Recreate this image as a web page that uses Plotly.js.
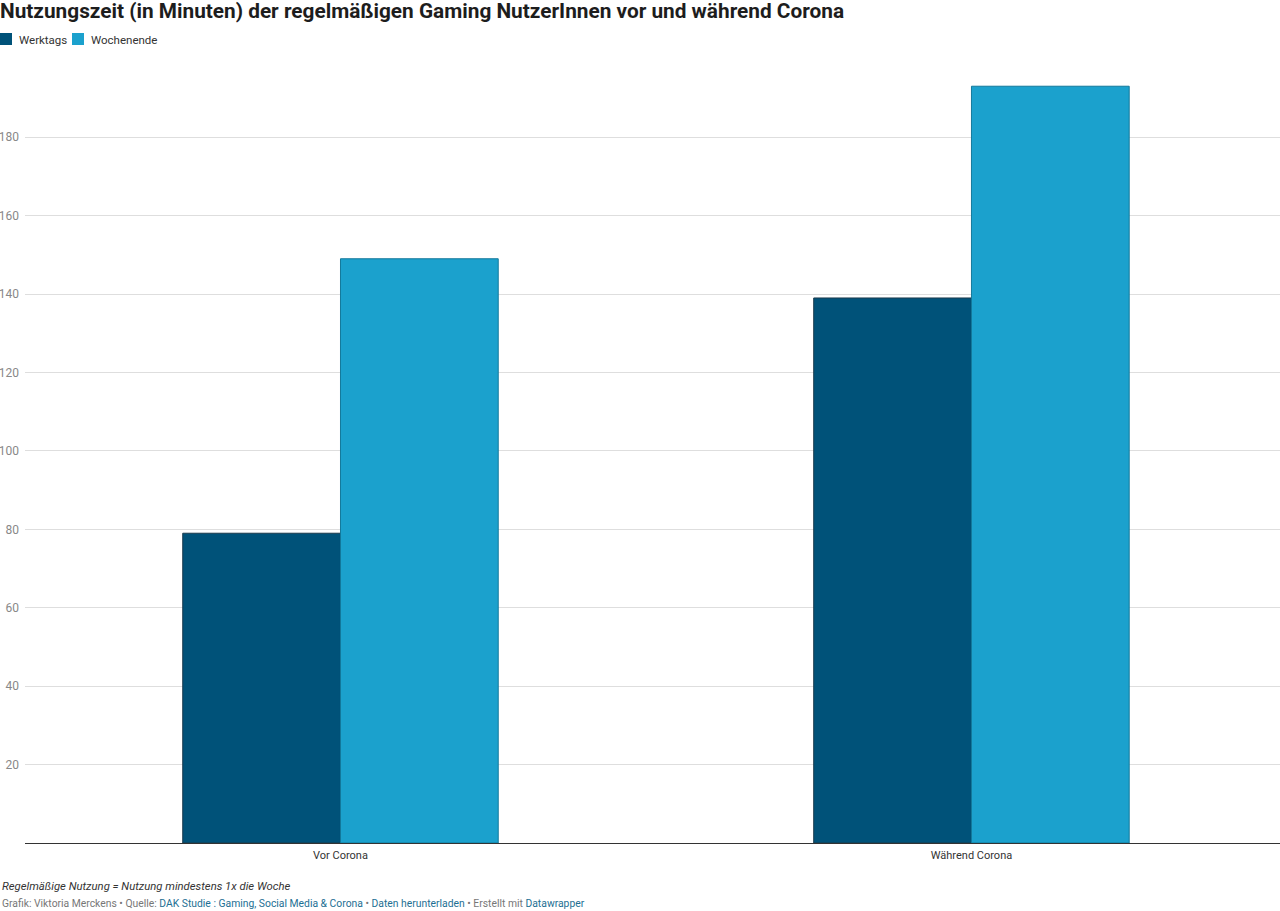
<!DOCTYPE html>
<html>
<head>
<meta charset="utf-8">
<script src="https://cdn.plot.ly/plotly-3.0.1.min.js"></script>
<style>
html,body{margin:0;padding:0;background:#fff;}
#chart{width:1280px;height:911px;}
</style>
</head>
<body>
<div id="chart"></div>
<script>
const categories = ["Vor Corona", "Während Corona"];
const werktags = [79, 139];
const wochenende = [149, 193];
const seriesNames = ["Werktags", "Wochenende"];
const seriesColors = ["#005279", "#1ba1cd"];
const yTicks = [20, 40, 60, 80, 100, 120, 140, 160, 180];

const W = 1280, H = 911;
const mL = 25, mR = 0, mT = 58, mB = 67.5;
const pw = W - mL - mR, ph = H - mT - mB;
const px = v => (v - mL) / pw;          // pixel x -> paper x
const py = v => (H - mB - v) / ph;      // pixel y -> paper y

const traces = [
  {
    type: "bar", name: seriesNames[0], x: categories, y: werktags,
    marker: {color: seriesColors[0], line: {color: "#1a3a4d", width: 1}},
    hoverinfo: "x+y+name"
  },
  {
    type: "bar", name: seriesNames[1], x: categories, y: wochenende,
    marker: {color: seriesColors[1], line: {color: "#13799b", width: 1}},
    hoverinfo: "x+y+name"
  }
];

// legend drawn as shapes + labels to match the compact reference legend
const legendSquares = [[0, 12], [72, 84]];
const legendTextX = [17, 89];
const shapes = legendSquares.map((s, i) => ({
  type: "rect", xref: "paper", yref: "paper",
  x0: px(s[0]), x1: px(s[1]), y0: py(45), y1: py(33),
  fillcolor: seriesColors[i], line: {width: 0}, layer: "above"
}));
const legendLabels = seriesNames.map((n, i) => ({
  xref: "paper", yref: "paper", x: px(legendTextX[i]), xanchor: "left",
  y: py(39.5), yanchor: "middle", showarrow: false, text: n,
  font: {size: 11.5, color: "#333"}
}));

const layout = {
  width: W, height: H,
  paper_bgcolor: "#fff", plot_bgcolor: "#fff",
  font: {family: "Roboto, sans-serif", size: 12, color: "#333"},
  margin: {l: mL, r: mR, t: mT, b: mB, pad: 0},
  barmode: "group", bargap: 0.5, bargroupgap: 0,
  title: {
    text: "<b>Nutzungszeit (in Minuten) der regelmäßigen Gaming NutzerInnen vor und während Corona</b>",
    font: {family: "Roboto, sans-serif", size: 20.8, color: "#1d1d1d"},
    xref: "container", x: 0, xanchor: "left",
    yref: "container", y: 1 - 11/H, yanchor: "middle"
  },
  showlegend: false,
  xaxis: {
    type: "category", range: [-0.5, 1.489],
    showgrid: false, zeroline: false, showline: false,
    ticks: "", ticklabelstandoff: 4,
    tickfont: {size: 11, color: "#333"}, fixedrange: true
  },
  yaxis: {
    range: [0, 200.2], tickvals: yTicks, ticktext: yTicks.map(String),
    showgrid: true, gridcolor: "#dedede", gridwidth: 1,
    zeroline: true, zerolinecolor: "#333", zerolinewidth: 1,
    showline: false, ticks: "", ticklabelstandoff: 5,
    tickfont: {size: 12, color: "#888"}, fixedrange: true
  },
  shapes: shapes,
  annotations: legendLabels.concat([
    {
      xref: "paper", yref: "paper", x: px(0), xanchor: "left",
      y: py(887.5), yanchor: "middle", showarrow: false,
      text: "<i>Regelmäßige Nutzung = Nutzung mindestens 1x die Woche</i>",
      font: {size: 11.3, color: "#333"}
    },
    {
      xref: "paper", yref: "paper", x: px(0), xanchor: "left",
      y: py(904.5), yanchor: "middle", showarrow: false,
      text: "Grafik: Viktoria Merckens • Quelle: <span style=\"color:#1d6f93\">DAK Studie : Gaming, Social Media &amp; Corona</span> • <span style=\"color:#1d6f93\">Daten herunterladen</span> • Erstellt mit <span style=\"color:#1d6f93\">Datawrapper</span>",
      font: {size: 10.35, color: "#777"}
    }
  ])
};

Plotly.newPlot("chart", traces, layout, {displayModeBar: false});
</script>
</body>
</html>
